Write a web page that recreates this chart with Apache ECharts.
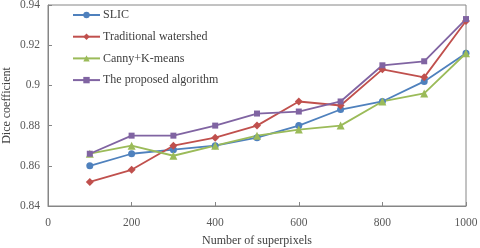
<!DOCTYPE html>
<html>
<head>
<meta charset="utf-8">
<script src="https://cdn.jsdelivr.net/npm/echarts@6/dist/echarts.min.js"></script>
<style>html,body{margin:0;padding:0;background:#fff}#c{width:480px;height:248px}</style>
</head>
<body>
<div id="c"></div>
<script>
const xValues = [100, 200, 300, 400, 500, 600, 700, 800, 900, 1000];
const seriesNames = ['SLIC', 'Traditional watershed', 'Canny+K-means', 'The proposed algorithm'];
const slic = [0.860, 0.866, 0.868, 0.870, 0.874, 0.880, 0.888, 0.892, 0.902, 0.916];
const watershed = [0.852, 0.858, 0.870, 0.874, 0.880, 0.892, 0.890, 0.908, 0.904, 0.932];
const cannyKmeans = [0.866, 0.870, 0.865, 0.870, 0.875, 0.878, 0.880, 0.892, 0.896, 0.916];
const proposed = [0.866, 0.875, 0.875, 0.880, 0.886, 0.887, 0.892, 0.910, 0.912, 0.933];

const colors = ['#4F81BD', '#C0504D', '#9BBB59', '#8064A2'];
const symbols = ['circle', 'diamond', 'triangle', 'rect'];
const symbolSizes = [7, 8, 8, 6];
const allData = [slic, watershed, cannyKmeans, proposed];
const font = 'Liberation Serif, Times New Roman, serif';

const chart = echarts.init(document.getElementById('c'), null, {renderer: 'canvas'});
chart.setOption({
  animation: false,
  textStyle: {fontFamily: font},
  grid: {left: 48, right: 14, top: 5, bottom: 42, show: true, borderColor: '#868686', borderWidth: 1,
    containLabel: false, outerBoundsMode: 'none'},
  legend: {
    orient: 'vertical', left: 67, top: 4,
    itemWidth: 27, itemHeight: 8, itemGap: 9.7,
    textStyle: {fontFamily: font, fontSize: 12, color: '#404040', padding: [0, 0, 0, -2]},
    data: seriesNames
  },
  xAxis: {
    type: 'value', min: 0, max: 1000, interval: 200,
    name: 'Number of superpixels', nameLocation: 'middle', nameGap: 29, nameMoveOverlap: false,
    nameTextStyle: {fontFamily: font, fontSize: 12, color: '#404040'},
    axisLine: {lineStyle: {color: '#868686', width: 1}},
    axisTick: {inside: true, length: 4, lineStyle: {color: '#868686'}},
    axisLabel: {fontFamily: font, fontSize: 11.5, color: '#595959', margin: 11,
      formatter: v => String(v)},
    splitLine: {show: false}
  },
  yAxis: {
    type: 'value', min: 0.84, max: 0.94, interval: 0.02,
    name: 'Dice coefficient', nameLocation: 'middle', nameGap: 35, nameMoveOverlap: false,
    nameTextStyle: {fontFamily: font, fontSize: 12, color: '#404040'},
    axisLine: {show: true, lineStyle: {color: '#868686', width: 1}},
    axisTick: {show: true, inside: true, length: 4, lineStyle: {color: '#868686'}},
    axisLabel: {fontFamily: font, fontSize: 11.5, color: '#595959', margin: 8,
      formatter: v => String(+v.toFixed(2))},
    splitLine: {show: false}
  },
  series: seriesNames.map((n, i) => ({
    name: n, type: 'line',
    data: xValues.map((x, j) => [x, allData[i][j]]),
    symbol: symbols[i], symbolSize: symbolSizes[i], showAllSymbol: true,
    lineStyle: {color: colors[i], width: 1.8},
    itemStyle: {color: colors[i]}
  }))
});
</script>
</body>
</html>
